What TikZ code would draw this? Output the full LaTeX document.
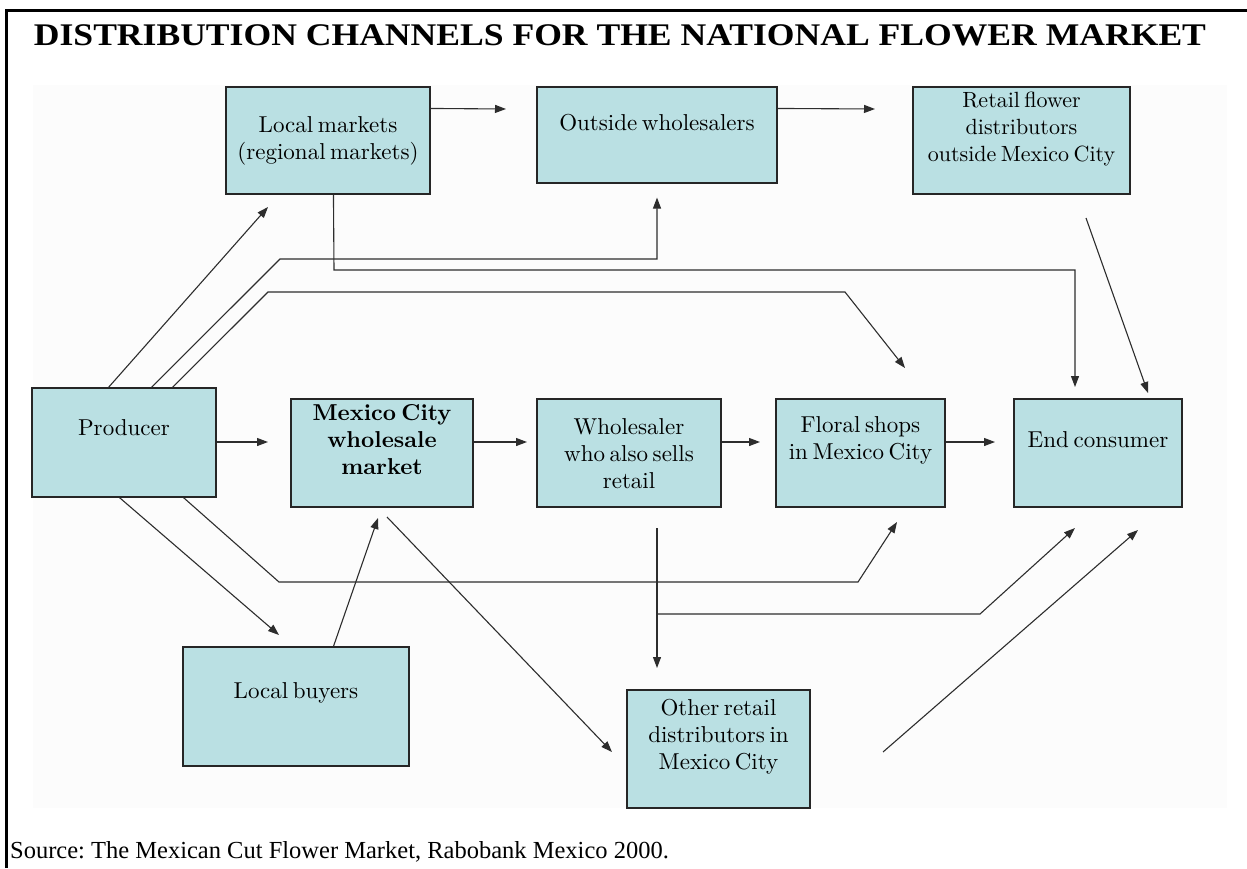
\documentclass[tikz,border=0pt]{standalone}
\usepackage{fontspec}
\newfontfamily\timesf{Liberation Serif}
\newfontfamily\boxfont{lmroman10-regular.otf}[BoldFont=lmroman10-bold.otf, WordSpace=0.6]
\usetikzlibrary{arrows.meta,calc}
\definecolor{boxfill}{RGB}{186,224,227}
\definecolor{linec}{RGB}{45,45,45}
\frenchspacing
\begin{document}
\begin{tikzpicture}[x=1pt,y=-1pt,
  box/.style={draw=black!85, line width=1.1pt, fill=boxfill, inner sep=0pt},
  lbl/.style={font=\boxfont\fontsize{23}{27}\selectfont, align=center, inner sep=0pt},
  conn/.style={draw=linec, line width=1.1pt, -{Triangle[length=11pt,width=8pt]}}]
\useasboundingbox (0,0) rectangle (1247,868);
\fill[white] (0,0) rectangle (1247,868);
\fill[black!1] (33,85) rectangle (1227,808);
\draw[line width=3pt] (6,868) -- (6,10) -- (1247,10);
% title
\node[inner sep=0pt] (title) at (620,35) {\scalebox{1.13}[1]{\timesf\bfseries\fontsize{31.5}{36}\selectfont DISTRIBUTION CHANNELS FOR THE NATIONAL FLOWER MARKET}};
\node[inner sep=0pt, anchor=west] (source) at (10,852) {\timesf\fontsize{24.5}{28}\selectfont Source: The Mexican Cut Flower Market, Rabobank Mexico 2000.};
% boxes
\node[box, minimum width=204pt, minimum height=107pt] (lm) at (328,140.5) {};
\node[box, minimum width=240pt, minimum height=96pt] (ow) at (657,135) {};
\node[box, minimum width=217pt, minimum height=107pt] (rf) at (1021.5,140.5) {};
\node[box, minimum width=184pt, minimum height=109pt] (prod) at (124,442.5) {};
\node[box, minimum width=182pt, minimum height=108pt] (mcwm) at (382,453) {};
\node[box, minimum width=184pt, minimum height=108pt] (whs) at (629,453) {};
\node[box, minimum width=169pt, minimum height=108pt] (floral) at (860.5,453) {};
\node[box, minimum width=168pt, minimum height=108pt] (endc) at (1098,453) {};
\node[box, minimum width=226pt, minimum height=119pt] (lb) at (296,706.5) {};
\node[box, minimum width=183pt, minimum height=118pt] (ord) at (718.5,749) {};
% labels
\node[lbl] (tlm) at (328,141) {Local markets\\(regional markets)};
\node[lbl] (tow) at (657,123) {Outside wholesalers};
\node[lbl, font=\boxfont\fontsize{22}{27}\selectfont] (trf) at (1021.5,129) {Retail flower\\distributors\\outside Mexico City};
\node[lbl] (tprod) at (124,428) {Producer};
\node[lbl, font=\boxfont\fontsize{23}{27}\selectfont\bfseries] (tmcwm) at (382,440) {Mexico City\\wholesale\\market};
\node[lbl] (twhs) at (629,454) {Wholesaler\\who also sells\\retail};
\node[lbl] (tfloral) at (860.5,440) {Floral shops\\in Mexico City};
\node[lbl] (tendc) at (1098,440) {End consumer};
\node[lbl] (tlb) at (296,693) {Local buyers};
\node[lbl] (tord) at (718.5,737) {Other retail\\distributors in\\Mexico City};
% free ends and bends
\coordinate (a1) at (268,207);
\coordinate (b2a) at (280,259); \coordinate (b2b) at (657,259);
\coordinate (b3a) at (268,292); \coordinate (b3b) at (845,292); \coordinate (a3) at (905,368);
\coordinate (b4a) at (334,270); \coordinate (b4b) at (1075,270); \coordinate (a4) at (1075,387);
\coordinate (s5) at (1086,218); \coordinate (a5) at (1148,393);
\coordinate (a6) at (506,109); \coordinate (a7) at (875,109);
\coordinate (a8) at (268,442); \coordinate (a9) at (527,442); \coordinate (a10) at (760,442); \coordinate (a11) at (995,442);
\coordinate (a12) at (279,635);
\coordinate (b13a) at (279,582); \coordinate (b13b) at (858,582); \coordinate (a13) at (897,522);
\coordinate (s15) at (387,517); \coordinate (a15) at (612,752);
\coordinate (s16) at (657,528); \coordinate (a16) at (657,668);
\coordinate (b17a) at (657,614); \coordinate (b17b) at (980,614); \coordinate (a17) at (1075,528);
\coordinate (s18) at (883,752); \coordinate (a18) at (1138,530);
\coordinate (a14) at (378,518);
% connectors
\draw[conn] ($(prod.north west)+(77,0)$) -- (a1);
\draw[conn] ($(prod.north west)+(120,0)$) -- (b2a) -- (b2b) -- ($(ow.south)+(0,14)$);
\draw[conn] ($(prod.north west)+(141,0)$) -- (b3a) -- (b3b) -- (a3);
\draw[conn] ($(lm.south west)+(108,0)$) -- (b4a) -- (b4b) -- (a4);
\draw[conn] (s5) -- (a5);
\draw[conn] ($(lm.north east)+(0,22)$) -- (a6);
\draw[conn] ($(ow.north east)+(0,22)$) -- (a7);
\draw[conn] (prod.east |- a8) -- (a8);
\draw[conn] (mcwm.east |- a9) -- (a9);
\draw[conn] (whs.east |- a10) -- (a10);
\draw[conn] (floral.east |- a11) -- (a11);
\draw[conn] ($(prod.south west)+(88,0)$) -- (a12);
\draw[conn] ($(prod.south west)+(152,0)$) -- (b13a) -- (b13b) -- (a13);
\draw[conn] ($(lb.north west)+(151,0)$) -- (a14);
\draw[conn] (s15) -- (a15);
\draw[conn] (s16) -- (a16);
\draw[conn] (b17a) -- (b17b) -- (a17);
\draw[conn] (s18) -- (a18);
\end{tikzpicture}
\end{document}
